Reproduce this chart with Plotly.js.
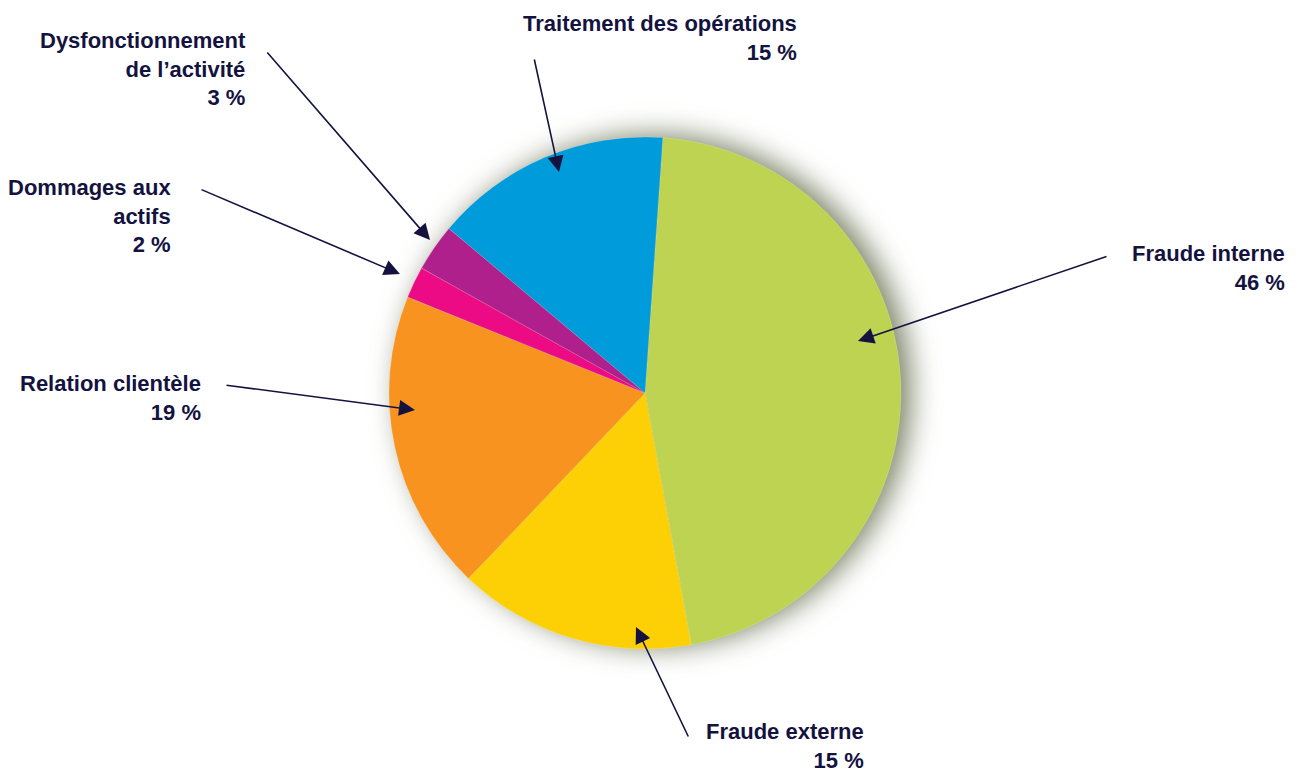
<!DOCTYPE html>
<html>
<head>
<meta charset="utf-8">
<script src="https://cdn.plot.ly/plotly-3.0.1.min.js"></script>
<style>
  html, body { margin: 0; padding: 0; background: #ffffff; }
  #chart { width: 1298px; height: 774px; }
  .pielayer .trace { filter: drop-shadow(10px -2px 14px rgba(70, 80, 40, 0.7)); }
</style>
</head>
<body>
<div id="chart"></div>
<script>
// ---- data ----
const categories = ["Fraude interne", "Fraude externe", "Relation clientèle", "Dommages aux actifs", "Dysfonctionnement de l’activité", "Traitement des opérations"];
const values = [46, 15, 19, 2, 3, 15];
const colors = ["#BDD351", "#FDD005", "#F7931E", "#EC0B85", "#B0208C", "#009BDB"];
// label lines as shown on the chart
const labelLines = [
  ["Fraude interne"],
  ["Fraude externe"],
  ["Relation clientèle"],
  ["Dommages aux", "actifs"],
  ["Dysfonctionnement", "de l’activité"],
  ["Traitement des opérations"]
];

// ---- layout helpers (pixel -> paper) ----
const W = 1298, H = 774;
const px = v => v / W;
const py = v => 1 - v / H;

// label placement (right edge, vertical center of block) and arrow geometry (tail, tip), in pixels
const labelPos = [[1287, 268], [866, 746], [203, 398], [173, 216], [248, 69], [799, 38]];
const arrowTail = [[1108, 256], [689, 738], [225, 385], [200, 189], [266, 51], [534, 58]];
const arrowTip = [[858, 341], [636, 627], [415, 410], [400, 274], [430, 240], [559, 172]];

const navy = "#14133f";
const annotations = [];
categories.forEach((c, i) => {
  const lines = labelLines[i].map(l => "<b>" + l + "</b>");
  lines.push("<b>" + values[i] + " %</b>");
  annotations.push({
    xref: "paper", yref: "paper",
    x: px(labelPos[i][0]), y: py(labelPos[i][1]),
    xanchor: "right", yanchor: "middle", align: "right",
    text: lines.join("<br>"),
    showarrow: false,
    font: { family: "Liberation Sans, Arial, sans-serif", size: 22, color: navy }
  });
  annotations.push({
    xref: "paper", yref: "paper",
    x: px(arrowTip[i][0]), y: py(arrowTip[i][1]),
    ax: arrowTail[i][0] - arrowTip[i][0],
    ay: arrowTail[i][1] - arrowTip[i][1],
    axref: "pixel", ayref: "pixel",
    text: "",
    showarrow: true,
    arrowhead: 2, arrowsize: 2, arrowwidth: 1.6,
    arrowcolor: navy, standoff: 0
  });
});

// pie geometry: center (645,393), radius 256 px
const cx = 645, cy = 393, r = 256;

const trace = {
  type: "pie",
  labels: categories,
  values: values,
  sort: false,
  direction: "clockwise",
  rotation: 4,
  textinfo: "none",
  hoverinfo: "label+percent",
  marker: { colors: colors, line: { color: "rgba(255,255,255,0.35)", width: 0.5 } },
  domain: { x: [px(cx - r), px(cx + r)], y: [py(cy + r), py(cy - r)] },
  showlegend: false
};

const layout = {
  width: W, height: H,
  margin: { l: 0, r: 0, t: 0, b: 0 },
  paper_bgcolor: "#ffffff",
  plot_bgcolor: "#ffffff",
  showlegend: false,
  annotations: annotations
};

Plotly.newPlot("chart", [trace], layout, { displayModeBar: false, staticPlot: true });
</script>
</body>
</html>
